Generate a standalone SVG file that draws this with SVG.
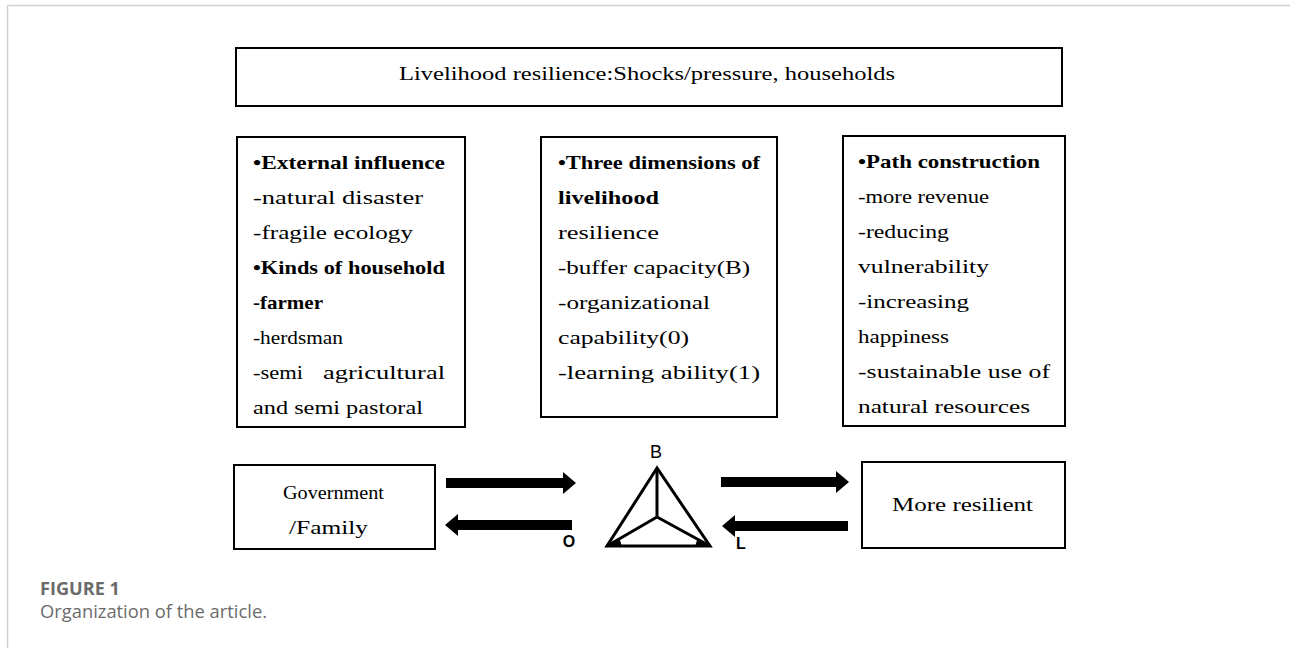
<svg xmlns="http://www.w3.org/2000/svg" width="1290" height="648" viewBox="0 0 1290 648">
<style>
.box{fill:#fff;stroke:#000;stroke-width:2}
.t{font-family:"Liberation Serif","Times New Roman",serif;font-size:19px;fill:#000}
.b{font-weight:bold}
.lbl{font-family:"Liberation Sans",Arial,sans-serif;fill:#000}
.cap{font-family:"Open Sans","Noto Sans",sans-serif;fill:#6b6b6b}
.arr{fill:#000}
.tri{fill:none;stroke:#000;stroke-width:3;stroke-linejoin:miter}
</style>
<rect width="1290" height="648" fill="#fff"/>
<path d="M7.5 648V5.5H1290" fill="none" stroke="#d2d2d2" stroke-width="1.5"/>

<g id="top">
<rect class="box" x="236" y="48" width="826" height="58" stroke-width="2.5"/>
<text class="t" x="399" y="80" font-size="22" textLength="496" lengthAdjust="spacingAndGlyphs">Livelihood resilience:Shocks/pressure, households</text>
</g>

<g id="external">
<rect class="box" x="237" y="137" width="228" height="290"/>
<text class="t b" x="253" y="169" textLength="192" lengthAdjust="spacingAndGlyphs">•External influence</text>
<text class="t" x="253" y="204" textLength="170" lengthAdjust="spacingAndGlyphs">-natural disaster</text>
<text class="t" x="253" y="239" textLength="160" lengthAdjust="spacingAndGlyphs">-fragile ecology</text>
<text class="t b" x="253" y="274" textLength="192" lengthAdjust="spacingAndGlyphs">•Kinds of household</text>
<text class="t b" x="253" y="309" textLength="70" lengthAdjust="spacingAndGlyphs">-farmer</text>
<text class="t" x="253" y="344" textLength="90" lengthAdjust="spacingAndGlyphs">-herdsman</text>
<text class="t" x="253" y="379" textLength="50" lengthAdjust="spacingAndGlyphs">-semi</text>
<text class="t" x="323" y="379" textLength="122" lengthAdjust="spacingAndGlyphs">agricultural</text>
<text class="t" x="253" y="414" textLength="170" lengthAdjust="spacingAndGlyphs">and semi pastoral</text>
</g>

<g id="dimensions">
<rect class="box" x="541" y="137" width="236" height="280"/>
<text class="t b" x="558" y="169" textLength="202" lengthAdjust="spacingAndGlyphs">•Three dimensions of</text>
<text class="t b" x="558" y="204" textLength="101" lengthAdjust="spacingAndGlyphs">livelihood</text>
<text class="t" x="558" y="239" textLength="101" lengthAdjust="spacingAndGlyphs">resilience</text>
<text class="t" x="558" y="274" textLength="192" lengthAdjust="spacingAndGlyphs">-buffer capacity(B)</text>
<text class="t" x="558" y="309" textLength="152" lengthAdjust="spacingAndGlyphs">-organizational</text>
<text class="t" x="558" y="344" textLength="131" lengthAdjust="spacingAndGlyphs">capability(0)</text>
<text class="t" x="558" y="379" textLength="202" lengthAdjust="spacingAndGlyphs">-learning ability(1)</text>
</g>

<g id="path">
<rect class="box" x="843" y="136" width="222" height="290"/>
<text class="t b" x="858" y="168" textLength="182" lengthAdjust="spacingAndGlyphs">•Path construction</text>
<text class="t" x="858" y="203" textLength="131" lengthAdjust="spacingAndGlyphs">-more revenue</text>
<text class="t" x="858" y="238" textLength="91" lengthAdjust="spacingAndGlyphs">-reducing</text>
<text class="t" x="858" y="273" textLength="131" lengthAdjust="spacingAndGlyphs">vulnerability</text>
<text class="t" x="858" y="308" textLength="111" lengthAdjust="spacingAndGlyphs">-increasing</text>
<text class="t" x="858" y="343" textLength="91" lengthAdjust="spacingAndGlyphs">happiness</text>
<text class="t" x="858" y="378" textLength="192" lengthAdjust="spacingAndGlyphs">-sustainable use of</text>
<text class="t" x="858" y="413" textLength="172" lengthAdjust="spacingAndGlyphs">natural resources</text>
</g>

<g id="government">
<rect class="box" x="234" y="465" width="201" height="84"/>
<text class="t" x="283" y="499" textLength="101" lengthAdjust="spacingAndGlyphs">Government</text>
<text class="t" x="289" y="534" textLength="79" lengthAdjust="spacingAndGlyphs">/Family</text>
</g>

<g id="resilient">
<rect class="box" x="862" y="462" width="203" height="86"/>
<text class="t" x="892" y="511" textLength="141" lengthAdjust="spacingAndGlyphs">More resilient</text>
</g>

<g id="triangle">
<path class="tri" d="M657 468L607 546H710Z"/>
<path class="tri" d="M657 468V517M657 517L607 546M657 517L710 546"/>
<path class="arr" d="M605 547L620 540L622 547ZM712 547L697 540L695 547Z"/>
<text class="lbl" x="656" y="458" font-size="18" text-anchor="middle">B</text>
</g>

<g id="connectors">
<path class="arr" d="M446 478H563V472L576 483L563 494V488H446Z"/>
<path class="arr" d="M572 520H458V514L445 525L458 536V530H572Z"/>
<path class="arr" d="M721 477H836V471L849 482L836 493V487H721Z"/>
<path class="arr" d="M848 521H735V515L722 526L735 537V531H848Z"/>
<text class="lbl" x="569" y="547" font-size="16" font-weight="bold" text-anchor="middle">O</text>
<text class="lbl" x="741" y="549" font-size="16" font-weight="bold" text-anchor="middle">L</text>
</g>

<g id="caption">
<text class="cap" x="40" y="595" font-size="17.5" font-weight="bold" textLength="80" lengthAdjust="spacingAndGlyphs">FIGURE 1</text>
<text class="cap" x="40" y="618" font-size="17.5" textLength="227" lengthAdjust="spacingAndGlyphs">Organization of the article.</text>
</g>
</svg>
